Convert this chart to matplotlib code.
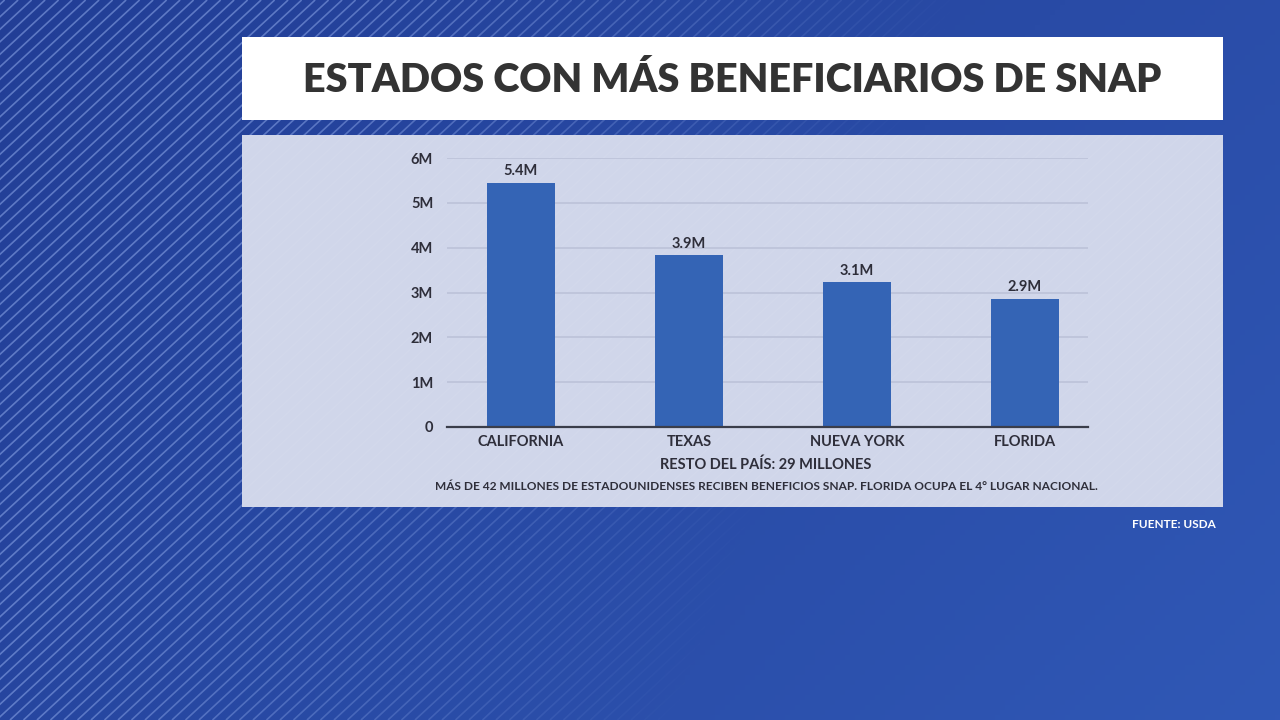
import numpy as np
import matplotlib
matplotlib.use("Agg")
import matplotlib.pyplot as plt
from matplotlib.collections import LineCollection
from matplotlib.patches import Rectangle

# ---- data ----
categories = ["CALIFORNIA", "TEXAS", "NUEVA YORK", "FLORIDA"]
values = [5.45, 3.83, 3.23, 2.86]          # millions (bar heights)
value_labels = ["5.4M", "3.9M", "3.1M", "2.9M"]
yticks = [0, 1, 2, 3, 4, 5, 6]
ytick_labels = ["0", "1M", "2M", "3M", "4M", "5M", "6M"]
title = "ESTADOS CON MÁS BENEFICIARIOS DE SNAP"
subtitle = "RESTO DEL PAÍS: 29 MILLONES"
note = "MÁS DE 42 MILLONES DE ESTADOUNIDENSES RECIBEN BENEFICIOS SNAP. FLORIDA OCUPA EL 4° LUGAR NACIONAL."
source = "FUENTE: USDA"

plt.rcParams['font.family'] = ['Lato', 'DejaVu Sans']

W, H = 1280, 720
fig = plt.figure(figsize=(12.8, 7.2), dpi=100)

# ---- background ----
bg = fig.add_axes([0, 0, 1, 1])
bg.set_xlim(0, W)
bg.set_ylim(H, 0)
bg.axis('off')
xx = np.linspace(0, 1, 256)
yy = np.linspace(0, 1, 144)
X, Y = np.meshgrid(xx, yy)
c0 = np.array([0x22, 0x3e, 0x96]) / 255
c1 = np.array([0x30, 0x58, 0xb6]) / 255
t = np.clip(0.6 * X + 0.3 * Y + 0.1 * X * Y, 0, 1)[..., None]
img = c0 * (1 - t) + c1 * t
bg.imshow(img, extent=[0, W, H, 0], aspect='auto', zorder=0)

# diagonal stripes
segs = []
for x0 in np.arange(-800, 1400, 13.5):
    segs.append([(x0, H), (x0 + H * 1.08, 0)])
lc = LineCollection(segs, colors=(0.6, 0.7, 0.95, 0.5), linewidths=1.2, zorder=1)
bg.add_collection(lc)
# fade stripes to the right
fade = np.zeros((144, 256, 4))
fade[..., :3] = img
fx = np.clip((X - 0.2 + 0.22 * Y) / 0.55, 0, 1) ** 1.3
fade[..., 3] = fx
bg.imshow(fade, extent=[0, W, H, 0], aspect='auto', zorder=2)

# title box
bg.add_patch(Rectangle((242, 37), 981, 83, facecolor='white', edgecolor='none', zorder=3))
bg.text(732, 80, title, ha='center', va='center', fontsize=28.5, fontweight='heavy',
        color='#333333', zorder=4)
# chart panel
panel = Rectangle((242, 135), 981, 372, facecolor='#d0d6ea', edgecolor='none', zorder=3)
bg.add_patch(panel)
psegs = []
for x0 in np.arange(-800, 1400, 13.5):
    psegs.append([(x0, H), (x0 + H * 1.08, 0)])
plc = LineCollection(psegs, colors=(1, 1, 1, 0.06), linewidths=1.0, zorder=3.5)
bg.add_collection(plc)
plc.set_clip_path(panel)
bg.text(766, 465, subtitle, ha='center', va='center', fontsize=10.5, fontweight='bold',
        color='#2e2e3a', zorder=4)
bg.text(766, 486, note, ha='center', va='center', fontsize=8.6, fontweight='bold',
        color='#2e2e3a', zorder=4)
bg.text(1216, 525, source, ha='right', va='center', fontsize=8.5, fontweight='bold',
        color='white', zorder=4)

# ---- chart ----
ax = fig.add_axes([447 / W, 1 - 427 / H, (1088 - 447) / W, (427 - 158) / H])
ax.patch.set_alpha(0)
ax.set_zorder(5)
x = np.arange(len(categories))
ax.bar(x, values, width=0.4, color='#3464b5', zorder=3)
for xi, v, lab in zip(x, values, value_labels):
    ax.text(xi, v + 0.1, lab, ha='center', va='bottom', fontsize=10.5,
            fontweight='bold', color='#2e2e3a')
ax.set_xlim(-0.44, 3.375)
ax.set_ylim(0, 6)
ax.set_yticks(yticks)
ax.set_yticklabels(ytick_labels)
ax.set_xticks(x)
ax.set_xticklabels(categories)
ax.grid(axis='y', color='#bcc2d8', linewidth=1.2, zorder=0)
for s in ['top', 'right', 'left']:
    ax.spines[s].set_visible(False)
ax.spines['bottom'].set_color('#3a3d4a')
ax.spines['bottom'].set_linewidth(1.6)
ax.spines['bottom'].set_zorder(4)
ax.tick_params(axis='both', length=0, labelcolor='#2e2e3a', labelsize=10.5)
ax.tick_params(axis='y', pad=10)
ax.tick_params(axis='x', pad=6)
for lbl in ax.get_xticklabels() + ax.get_yticklabels():
    lbl.set_fontweight('bold')

fig.savefig("out.png", dpi=100)
